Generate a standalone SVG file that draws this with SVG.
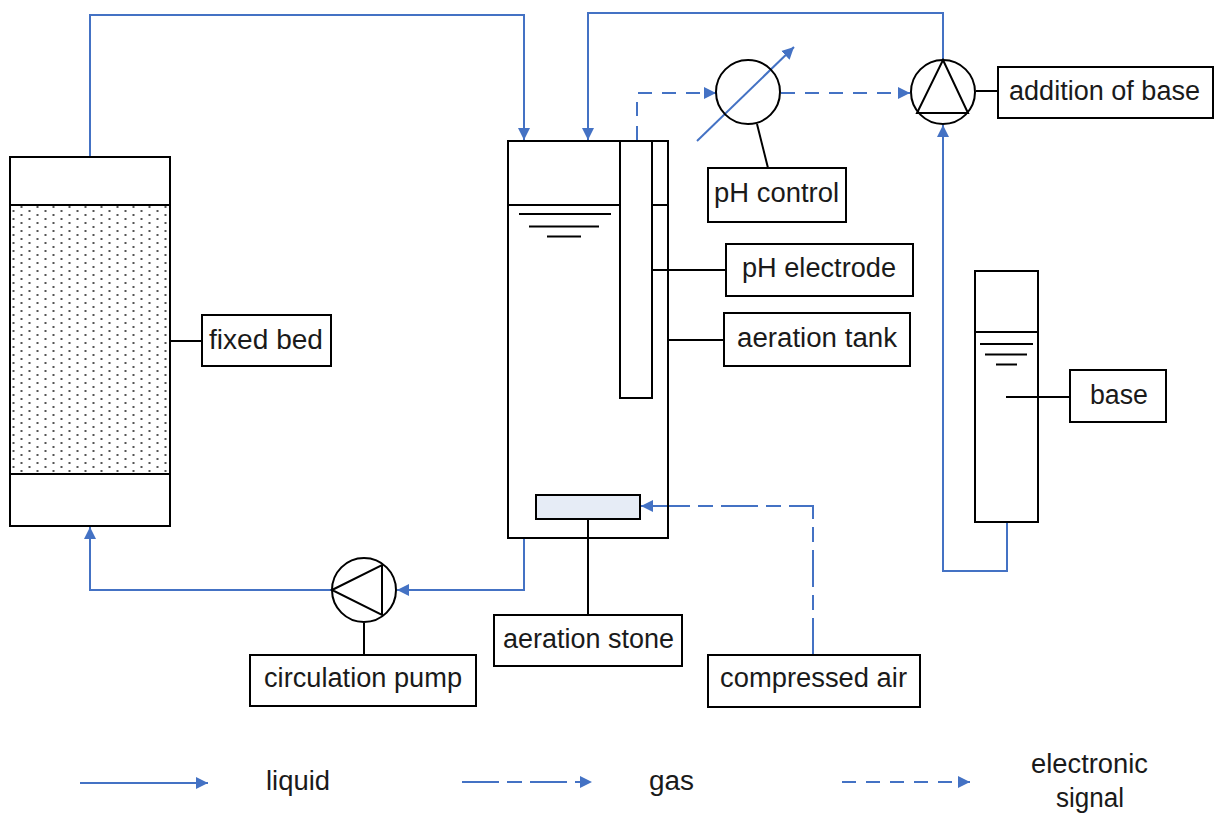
<svg xmlns="http://www.w3.org/2000/svg" width="1215" height="814" viewBox="0 0 1215 814">
<style>
.k{fill:none;stroke:#000;stroke-width:2}
.b{fill:#fff;stroke:#000;stroke-width:2}
.l{fill:none;stroke:#4472c4;stroke-width:2}
.d{stroke-dasharray:14 10}
.dl{stroke-dasharray:37 8 15 8}
.e{marker-end:url(#a)}
text{font-family:"Liberation Sans",Arial,sans-serif;font-size:27px;fill:#1a1a1a}
</style>
<defs>
<marker id="a" markerUnits="userSpaceOnUse" markerWidth="14" markerHeight="14" refX="12" refY="7" orient="auto"><path d="M0 1L12 7L0 13Z" fill="#4472c4"/></marker>
<pattern id="dots" width="16" height="8" patternUnits="userSpaceOnUse" x="4.5" y="206"><rect x="0" y="0" width="2" height="2" fill="#555"/><rect x="8" y="4" width="2" height="2" fill="#555"/></pattern>
</defs>
<g id="connectors">
<path class="l e" d="M90 157V15H524V140"/>
<path class="l e" d="M943 60V13H588V140"/>
<path class="l d e" d="M637 140V93H716"/>
<path class="l d e" d="M781 93H910"/>
<path class="l e" d="M697 141L794 47"/>
<path class="l e" d="M1007 522V571H943V125"/>
<path class="l e" d="M524 538V590H397"/>
<path class="l e" d="M333 590H90V527"/>
<path class="l dl e" d="M813 655V506H641"/>
<path class="k" d="M170 341H202M652 270H726M668 340H724M1006 397H1070M976 91H998M757 124L768 168M588 519V615M364 623V655"/>
<path class="l e" d="M80 783H208"/>
<path class="l dl e" d="M462 782H592"/>
<path class="l d e" d="M842 782H970"/>
</g>
<g id="fixed-bed">
<rect class="b" x="10" y="157" width="160" height="369"/>
<rect x="11" y="205" width="158" height="269" fill="url(#dots)"/>
<path class="k" d="M10 205H170M10 474H170"/>
</g>
<g id="fixed-bed-label"><rect class="b" x="202" y="315" width="129" height="51"/><text x="209" y="349" textLength="114" lengthAdjust="spacingAndGlyphs">fixed bed</text></g>
<g id="aeration-tank">
<rect class="k" x="508" y="141" width="160" height="397"/>
<path class="k" d="M508 205H620M652 205H668M519 214H611M529 226.500H599M547 236.500H581"/>
</g>
<g id="ph-electrode"><rect class="b" x="620" y="141" width="32" height="257"/></g>
<g id="aeration-stone"><rect x="536" y="495" width="104" height="24" fill="#e6ecf6" stroke="#000" stroke-width="2"/></g>
<g id="ph-control-circle"><circle class="k" cx="748" cy="92" r="32"/></g>
<g id="base-pump"><circle class="k" cx="943" cy="92" r="32"/><path class="k" d="M943 60L968 113H917Z"/></g>
<g id="circulation-pump"><circle class="k" cx="364" cy="590" r="32"/><path class="k" d="M332 590L382 565V615Z"/></g>
<g id="base-tank">
<rect class="k" x="975" y="271" width="63" height="251"/>
<path class="k" d="M975 332H1038M980 344H1033M985 354.500H1027M996 364.500H1017"/>
</g>
<g id="ph-control"><rect class="b" x="708" y="168" width="138" height="54"/><text x="714" y="202" textLength="125" lengthAdjust="spacingAndGlyphs">pH control</text></g>
<g id="ph-electrode-label"><rect class="b" x="726" y="244" width="187" height="52"/><text x="742" y="277" textLength="154" lengthAdjust="spacingAndGlyphs">pH electrode</text></g>
<g id="aeration-tank-label"><rect class="b" x="724" y="313" width="186" height="53"/><text x="737" y="347" textLength="160" lengthAdjust="spacingAndGlyphs">aeration tank</text></g>
<g id="addition-of-base"><rect class="b" x="998" y="67" width="215" height="51"/><text x="1009" y="100" textLength="191" lengthAdjust="spacingAndGlyphs">addition of base</text></g>
<g id="base"><rect class="b" x="1070" y="370" width="96" height="52"/><text x="1090" y="404" textLength="58" lengthAdjust="spacingAndGlyphs">base</text></g>
<g id="aeration-stone-label"><rect class="b" x="494" y="615" width="188" height="51"/><text x="503" y="648" textLength="171" lengthAdjust="spacingAndGlyphs">aeration stone</text></g>
<g id="circulation-pump-label"><rect class="b" x="250" y="655" width="226" height="51"/><text x="264" y="687" textLength="198" lengthAdjust="spacingAndGlyphs">circulation pump</text></g>
<g id="compressed-air"><rect class="b" x="708" y="655" width="212" height="52"/><text x="720" y="687" textLength="187" lengthAdjust="spacingAndGlyphs">compressed air</text></g>
<g id="legend">
<text x="266" y="790" textLength="64" lengthAdjust="spacingAndGlyphs">liquid</text>
<text x="649" y="790" textLength="45" lengthAdjust="spacingAndGlyphs">gas</text>
<text x="1031" y="773" textLength="117" lengthAdjust="spacingAndGlyphs">electronic</text>
<text x="1056" y="807" textLength="68" lengthAdjust="spacingAndGlyphs">signal</text>
</g>
</svg>
